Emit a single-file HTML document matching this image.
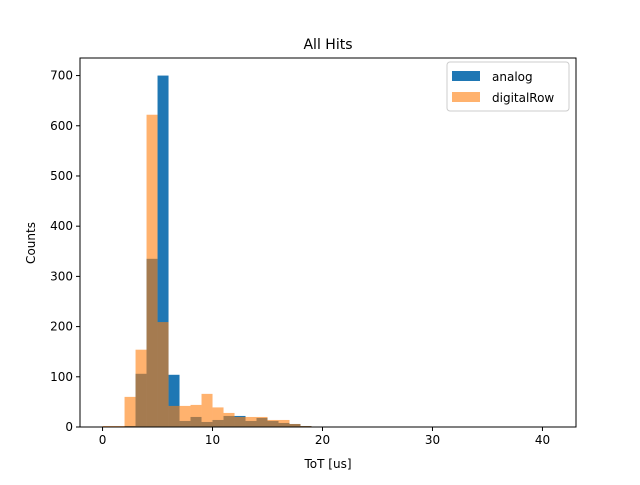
<!DOCTYPE html>
<html><head><meta charset="utf-8"><style>
body{margin:0;background:#fff}
svg text{font-family:"DejaVu Sans","Liberation Sans",sans-serif;fill:#000}
</style></head><body>
<svg id="chart" width="640" height="480" xmlns="http://www.w3.org/2000/svg">
<rect width="640" height="480" fill="#fff"/>
<g id="bars"></g>
<g id="axes"></g>
<text x="328" y="49" font-size="14" text-anchor="middle">All Hits</text>
<text x="328" y="468" font-size="12" text-anchor="middle">ToT [us]</text>
<text transform="translate(35,243) rotate(-90)" font-size="12" text-anchor="middle">Counts</text>
<g>
<rect x="447" y="62" width="122" height="49" rx="3" fill="#fff" fill-opacity="0.8" stroke="#ccc"/>
<rect x="452" y="71" width="28" height="10" fill="#1f77b4"/>
<text x="492" y="81" font-size="12">analog</text>
<rect x="452" y="92" width="28" height="10" fill="#ff7f0e" fill-opacity="0.6"/>
<text x="492" y="102" font-size="12">digitalRow</text>
</g>
</svg>
<script>
const binEdges = [0,1,2,3,4,5,6,7,8,9,10,11,12,13,14,15,16,17,18,19];
const analogCounts = [0,0,2,106,335,700,104,12,20,10,14,22,22,12,18,12,8,6,2];
const digitalRowCounts = [2,2,60,154,622,209,42,42,44,66,39,28,20,20,20,14,14,6,2];
const xTicks = [0,10,20,30,40];
const yTicks = [0,100,200,300,400,500,600,700];

const L=80,R=576,T=58,B=427;
const xMin=-2.05,xMax=43.05,yMin=0,yMax=735;
const xs=v=>L+(v-xMin)/(xMax-xMin)*(R-L);
const ys=v=>B-(v-yMin)/(yMax-yMin)*(B-T);
const NS='http://www.w3.org/2000/svg';
const bars=document.getElementById('bars'), axes=document.getElementById('axes');
function mk(tag,attrs,parent){const e=document.createElementNS(NS,tag);for(const k in attrs)e.setAttribute(k,attrs[k]);parent.appendChild(e);return e;}
function drawSeries(counts,color,op,name){
  counts.forEach((c,i)=>{
    if(c<=0)return;
    const x0=xs(binEdges[i]),x1=xs(binEdges[i+1]);
    const r=mk('rect',{x:x0,y:ys(c),width:x1-x0,height:ys(0)-ys(c),fill:color,'fill-opacity':op},bars);
    
    
  });
}
drawSeries(analogCounts,'#1f77b4',1,'analog');
drawSeries(digitalRowCounts,'#ff7f0e',0.6,'digitalrow');
const frame=mk('rect',{x:L,y:T,width:R-L,height:B-T,fill:'none',stroke:'#000','stroke-width':1},axes);


xTicks.forEach(t=>{
  const x=xs(t);
  mk('line',{x1:x,x2:x,y1:B,y2:B+4,stroke:'#000'},axes);
  const tx=mk('text',{x:x,y:B+17,'font-size':12,'text-anchor':'middle'},axes);
  tx.textContent=t;
  
  
});
yTicks.forEach(t=>{
  const y=ys(t);
  mk('line',{x1:L-4,x2:L,y1:y,y2:y,stroke:'#000'},axes);
  const tx=mk('text',{x:L-7,y:y+4,'font-size':12,'text-anchor':'end'},axes);
  tx.textContent=t;
  
  
});
</script>
</body></html>
